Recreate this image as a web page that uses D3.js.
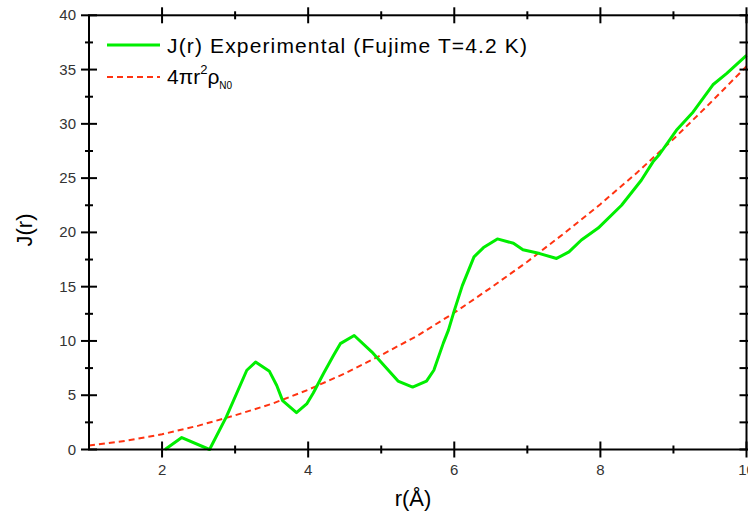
<!DOCTYPE html>
<html>
<head>
<meta charset="utf-8">
<script src="https://cdn.jsdelivr.net/npm/d3@7"></script>
<style>
  html, body { margin: 0; padding: 0; background: #fff; }
  svg { display: block; font-family: Arial, "Liberation Sans", sans-serif; }
</style>
</head>
<body>
<svg id="chart" width="748" height="517"></svg>
<script>
// Experimental pair-distribution J(r), Fujime T = 4.2 K
const expR = [2.04, 2.27, 2.65, 2.88, 3.16, 3.28, 3.47, 3.57, 3.65, 3.84, 3.98, 4.07, 4.21, 4.35, 4.44,
  4.63, 4.87, 5.07, 5.23, 5.43, 5.62, 5.72, 5.85, 5.92, 6.00, 6.11, 6.27, 6.40, 6.59, 6.81, 6.94,
  7.17, 7.40, 7.57, 7.74, 7.97, 8.29, 8.56, 8.72, 8.81, 9.04, 9.27, 9.54, 9.73, 10.0];
const expJ = [0, 1.1, 0, 3.0, 7.3, 8.05, 7.2, 5.9, 4.5, 3.4, 4.2, 5.2, 7.0, 8.7, 9.75,
  10.5, 9.0, 7.5, 6.3, 5.75, 6.3, 7.3, 9.8, 11.0, 12.8, 15.1, 17.75, 18.6, 19.4, 19.0, 18.4,
  18.05, 17.6, 18.2, 19.3, 20.4, 22.5, 24.8, 26.5, 27.2, 29.4, 31.1, 33.6, 34.65, 36.3];

// Uniform-density reference 4πr²ρ_N0
const refR = [1, 1.5, 2, 2.5, 3, 3.5, 4, 4.5, 5, 5.5, 6, 6.5, 7, 7.5, 8, 8.5, 9, 9.5, 10];
const refJ = [0.36, 0.8, 1.4, 2.2, 3.15, 4.2, 5.5, 7.0, 8.7, 10.5, 12.6, 14.9, 17.3, 19.9, 22.6, 25.5, 28.6, 31.9, 35.3];

const xMajor = [2, 4, 6, 8, 10];
const xMinor = [3, 5, 7, 9];
const yMajor = [0, 5, 10, 15, 20, 25, 30, 35, 40];
const yMinor = [2.5, 7.5, 12.5, 17.5, 22.5, 27.5, 32.5, 37.5];

const svg = d3.select("#chart");
const x = d3.scaleLinear().domain([1, 10]).range([89, 746.5]);
const y = d3.scaleLinear().domain([0, 40]).range([449.5, 15.3]);

const x0 = x.range()[0], x1 = x.range()[1];
const y0 = y.range()[0], y1 = y.range()[1];

const black = "#000";
const tickColor = "#333";
const green = "#00ee00";
const red = "#ff3311";

// curves
const line = d3.line().x(d => x(d[0])).y(d => y(d[1])).curve(d3.curveLinear);

svg.append("path")
  .datum(refR.map((r, i) => [r, refJ[i]]))
  .attr("d", line)
  .attr("fill", "none")
  .attr("stroke", red)
  .attr("stroke-width", 2)
  .attr("stroke-dasharray", "6,4");

svg.append("path")
  .datum(expR.map((r, i) => [r, expJ[i]]))
  .attr("d", line)
  .attr("fill", "none")
  .attr("stroke", green)
  .attr("stroke-width", 3)
  .attr("stroke-linejoin", "round");

// frame
const frame = svg.append("g").attr("stroke", black).attr("stroke-width", 2).attr("fill", "none");
frame.append("rect").attr("x", x0).attr("y", y1).attr("width", x1 - x0).attr("height", y0 - y1);

// bottom & top axis ticks
const ticks = svg.append("g").attr("stroke", black).attr("stroke-width", 2);
[[xMajor, 8], [xMinor, 4]].forEach(([vals, len]) => {
  vals.forEach(v => {
    ticks.append("line").attr("x1", x(v)).attr("x2", x(v)).attr("y1", y0 - len).attr("y2", y0 + len);
    ticks.append("line").attr("x1", x(v)).attr("x2", x(v)).attr("y1", y1 - len).attr("y2", y1 + len);
  });
});
// left ticks cross the axis, right ticks point inward
[[yMajor, 8], [yMinor, 4]].forEach(([vals, len]) => {
  vals.forEach(v => {
    ticks.append("line").attr("x1", x0 - len).attr("x2", x0 + len).attr("y1", y(v)).attr("y2", y(v));
    ticks.append("line").attr("x1", x1 - 7).attr("x2", x1 + 4).attr("y1", y(v)).attr("y2", y(v));
  });
});

// tick labels
svg.append("g").selectAll("text").data(xMajor).join("text")
  .attr("x", d => x(d)).attr("y", 475)
  .attr("text-anchor", "middle")
  .attr("font-size", 15).attr("fill", tickColor)
  .text(d => d);

svg.append("g").selectAll("text").data(yMajor).join("text")
  .attr("x", 76).attr("y", d => y(d) + 5)
  .attr("text-anchor", "end")
  .attr("font-size", 15).attr("fill", tickColor)
  .text(d => d);

// axis titles
svg.append("text")
  .attr("x", 413).attr("y", 506)
  .attr("text-anchor", "middle")
  .attr("font-size", 22).attr("fill", black)
  .text("r(Å)");

svg.append("text")
  .attr("transform", "translate(32,230) rotate(-90)")
  .attr("text-anchor", "middle")
  .attr("font-size", 22).attr("fill", black)
  .text("J(r)");

// legend
const lg = svg.append("g");
lg.append("line").attr("x1", 107).attr("x2", 160).attr("y1", 45).attr("y2", 45)
  .attr("stroke", green).attr("stroke-width", 3);
lg.append("text").attr("x", 167).attr("y", 53)
  .attr("font-size", 21).attr("fill", black)
  .attr("textLength", 360).attr("lengthAdjust", "spacing")
  .text("J(r) Experimental (Fujime T=4.2 K)");

lg.append("line").attr("x1", 107).attr("x2", 160).attr("y1", 77).attr("y2", 77)
  .attr("stroke", red).attr("stroke-width", 2).attr("stroke-dasharray", "6,4");
const t2 = lg.append("text").attr("x", 167).attr("y", 84).attr("font-size", 21).attr("fill", black);
t2.append("tspan").text("4πr");
t2.append("tspan").attr("font-size", 13).attr("dy", -10).text("2");
t2.append("tspan").attr("dy", 10).text("ρ");
t2.append("tspan").attr("font-size", 10).attr("dy", 5).text("N0");
</script>
</body>
</html>
